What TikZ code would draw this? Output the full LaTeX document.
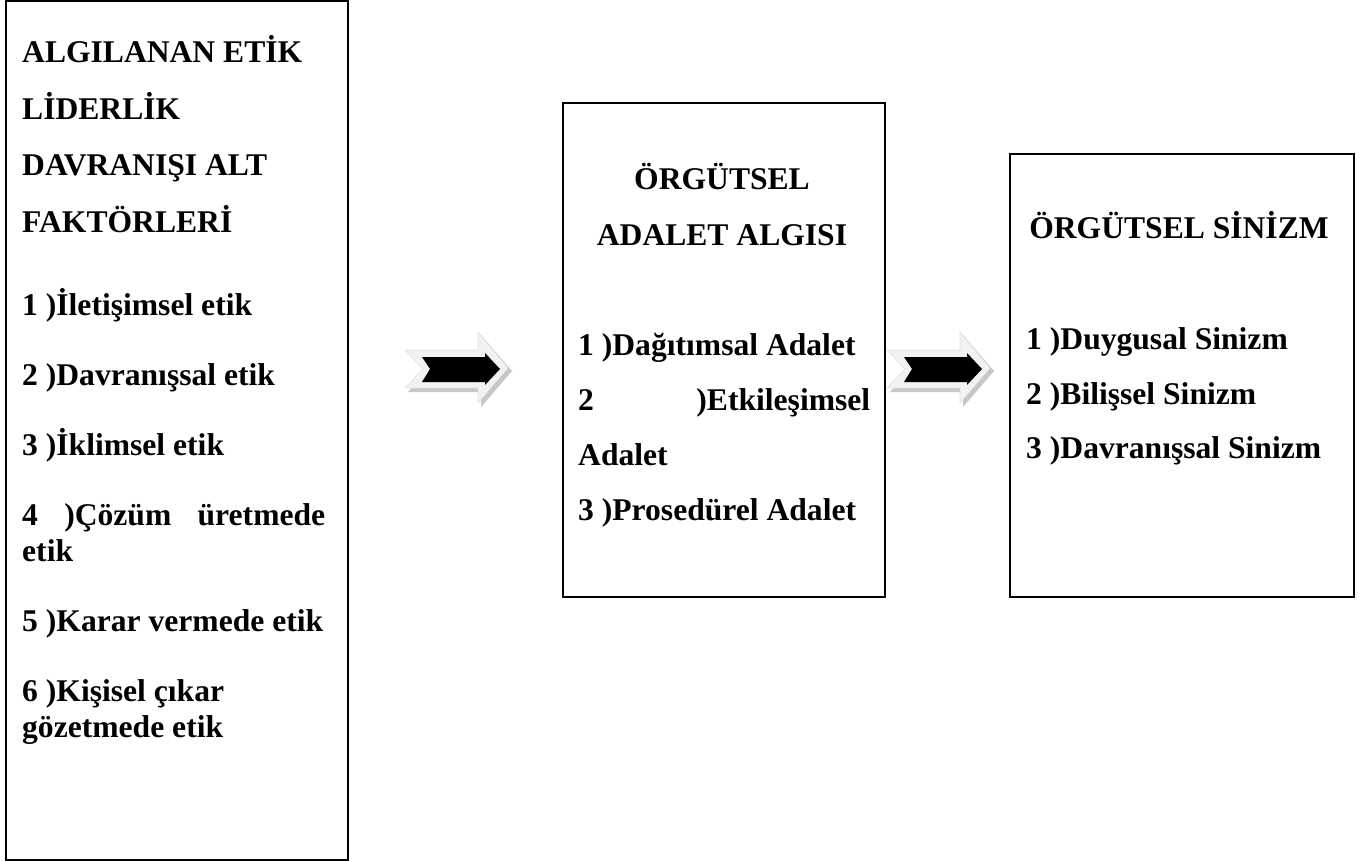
\documentclass[tikz,border=0pt]{standalone}
\usepackage{fontspec}
\setmainfont{Liberation Serif}
\begin{document}
\begin{tikzpicture}[x=1pt,y=-1pt,
  boxline/.style={draw=black,line width=2.6pt},
  txt/.style={anchor=base west,inner sep=0pt,font=\fontsize{31.6}{36}\selectfont\bfseries},
  ttl/.style={anchor=base,inner sep=0pt,font=\fontsize{31.6}{36}\selectfont\bfseries},
  arrshadow/.style={fill=black!22,draw=none},
  arrouter/.style={fill=black!5,draw=black!12,line width=0.6pt},
  arrinner/.style={fill=black,draw=none},
  blockarr/.pic={
    \path[arrshadow] (3,-15) -- (76,-15) -- (76,-33) -- (107,3) -- (76,39) -- (76,24) -- (3,24) -- (22,4) -- cycle;
    \path[arrouter] (0,-18) -- (73,-18) -- (73,-36) -- (103,0) -- (73,35) -- (73,20) -- (0,20) -- (18,1) -- cycle;
    \path[arrinner] (17,-11) -- (80,-11) -- (80,-15) -- (95,1) -- (80,17) -- (80,14) -- (17,14) -- (25,1) -- cycle;
  }]
\useasboundingbox (0,0) rectangle (1365,861);
\fill[white] (0,0) rectangle (1365,861);

% boxes
\coordinate (L1) at (6,1);   \coordinate (L2) at (348,860);
\coordinate (M1) at (563,103); \coordinate (M2) at (885,597);
\coordinate (R1) at (1010,154); \coordinate (R2) at (1354,597);
\draw[boxline] (L1) rectangle (L2);
\draw[boxline] (M1) rectangle (M2);
\draw[boxline] (R1) rectangle (R2);

% left box text
\node[txt] (l1) at (22,63) {ALGILANAN ETİK};
\node[txt] (l2) at (22,119.5) {LİDERLİK};
\node[txt] (l3) at (22,176) {DAVRANIŞI ALT};
\node[txt] (l4) at (22,232.5) {FAKTÖRLERİ};
\node[txt] (li1) at (22,315) {1 )İletişimsel etik};
\node[txt] (li2) at (22,385) {2 )Davranışsal etik};
\node[txt] (li3) at (22,455) {3 )İklimsel etik};
\node[txt] (li4) at (22,525) {\makebox[303pt][s]{4 )Çözüm üretmede}};
\node[txt] (li4b) at (22,561) {etik};
\node[txt] (li5) at (22,631) {5 )Karar vermede etik};
\node[txt] (li6) at (22,701) {6 )Kişisel çıkar};
\node[txt] (li6b) at (22,737) {gözetmede etik};

% middle box text
\node[ttl] (m1) at (722,190) {ÖRGÜTSEL};
\node[ttl] (m2) at (722,245) {ADALET ALGISI};
\node[txt] (mi1) at (578,355) {1 )Dağıtımsal Adalet};
\node[txt] (mi2) at (578,410) {\makebox[292pt][s]{2 )Etkileşimsel}};
\node[txt] (mi2b) at (578,465) {Adalet};
\node[txt] (mi3) at (578,520) {3 )Prosedürel Adalet};

% right box text
\node[ttl] (r1) at (1179,238) {ÖRGÜTSEL SİNİZM};
\node[txt] (ri1) at (1026,349) {1 )Duygusal Sinizm};
\node[txt] (ri2) at (1026,404) {2 )Bilişsel Sinizm};
\node[txt] (ri3) at (1026,458) {3 )Davranışsal Sinizm};

% block arrows
\coordinate (A1) at (405,368);
\coordinate (A2) at (887,368);
\pic at (A1) {blockarr};
\pic at (A2) {blockarr};
\end{tikzpicture}
\end{document}
